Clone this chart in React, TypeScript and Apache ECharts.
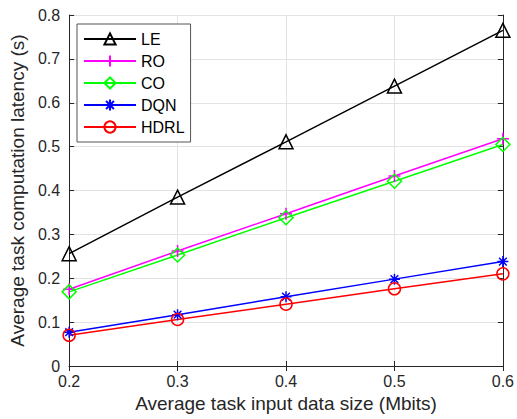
import React, { useEffect, useRef } from "react";
import * as echarts from "echarts";

const xValues = [0.2, 0.3, 0.4, 0.5, 0.6];
const leValues = [0.256, 0.385, 0.511, 0.638, 0.765];
const roValues = [0.175, 0.262, 0.347, 0.433, 0.518];
const coValues = [0.169, 0.253, 0.338, 0.421, 0.505];
const dqnValues = [0.077, 0.117, 0.158, 0.198, 0.238];
const hdrlValues = [0.07, 0.106, 0.141, 0.176, 0.21];

const FONT = "'Liberation Sans', Arial, Helvetica, sans-serif";
const TEXT = "#262626";

const PLUS = "path://M0,5L10,5M5,0L5,10";
const STAR = "path://M0,5L10,5M5,0L5,10M1.5,1.5L8.5,8.5M1.5,8.5L8.5,1.5";

function pairs(ys: number[]) {
  return xValues.map((x, i) => [x, ys[i]]);
}

function mk(name: string, ys: number[], color: string, symbol: string, size: number) {
  return {
    name,
    type: "line",
    data: pairs(ys),
    symbol,
    symbolSize: size,
    showAllSymbol: true,
    lineStyle: { color, width: 1.5 },
    itemStyle: { color: "rgba(0,0,0,0)", borderColor: color, borderWidth: 1.5 },
    emphasis: { disabled: true },
    z: 3,
  };
}

export default function App() {
  const ref = useRef<HTMLDivElement>(null);
  useEffect(() => {
    const chart = echarts.init(ref.current!, null, { renderer: "svg" });
    const axisLine = { show: true, lineStyle: { color: TEXT, width: 1 } };
    chart.setOption({
      animation: false,
      backgroundColor: "#ffffff",
      grid: { left: 68, right: 13, top: 15, bottom: 53, containLabel: false },
      legend: {
        orient: "vertical",
        left: 77,
        top: 24,
        padding: [7, 6, 7, 6],
        itemWidth: 52,
        itemHeight: 14,
        itemGap: 6,
        backgroundColor: "#ffffff",
        borderColor: "#555555",
        borderWidth: 1,
        textStyle: { fontFamily: FONT, fontSize: 16, color: "#000" },
        data: ["LE", "RO", "CO", "DQN", "HDRL"],
      },
      xAxis: [
        {
          type: "value",
          min: 0.2,
          max: 0.6,
          interval: 0.1,
          name: "Average task input data size (Mbits)",
          nameLocation: "middle",
          nameGap: 24,
          nameTextStyle: { fontFamily: FONT, fontSize: 19, color: TEXT },
          axisLine,
          axisTick: { show: true, inside: true, length: 5, lineStyle: { color: TEXT } },
          axisLabel: { fontFamily: FONT, fontSize: 16, color: TEXT, margin: 7, formatter: (v: number) => String(Math.round(v * 10) / 10) },
          splitLine: { show: true, lineStyle: { color: "#e3e3e3", width: 1 } },
        },
        {
          type: "value",
          position: "top",
          min: 0.2,
          max: 0.6,
          interval: 0.1,
          axisLine,
          axisTick: { show: true, inside: true, length: 5, lineStyle: { color: TEXT } },
          axisLabel: { show: false },
          splitLine: { show: false },
        },
      ],
      yAxis: [
        {
          type: "value",
          min: 0,
          max: 0.8,
          interval: 0.1,
          name: "Average task computation latency (s)",
          nameLocation: "middle",
          nameGap: 38,
          nameTextStyle: { fontFamily: FONT, fontSize: 19, color: TEXT },
          axisLine,
          axisTick: { show: true, inside: true, length: 5, lineStyle: { color: TEXT } },
          axisLabel: { fontFamily: FONT, fontSize: 16, color: TEXT, margin: 9, formatter: (v: number) => String(Math.round(v * 10) / 10) },
          splitLine: { show: true, lineStyle: { color: "#e3e3e3", width: 1 } },
        },
        {
          type: "value",
          position: "right",
          min: 0,
          max: 0.8,
          interval: 0.1,
          axisLine,
          axisTick: { show: true, inside: true, length: 5, lineStyle: { color: TEXT } },
          axisLabel: { show: false },
          splitLine: { show: false },
        },
      ],
      series: [
        mk("LE", leValues, "#000000", "triangle", 14),
        mk("RO", roValues, "#ff00ff", PLUS, 12),
        mk("CO", coValues, "#00ff00", "diamond", 14),
        mk("DQN", dqnValues, "#0000ff", STAR, 11),
        mk("HDRL", hdrlValues, "#ff0000", "circle", 12),
      ],
    });
    return () => chart.dispose();
  }, []);
  return (
    <div
      ref={ref}
      style={{ position: "absolute", left: 0, top: 0, width: 517, height: 419 }}
    />
  );
}
